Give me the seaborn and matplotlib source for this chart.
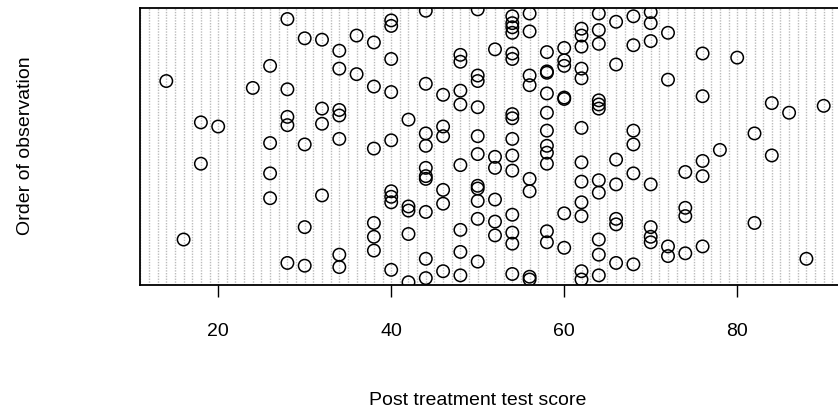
import matplotlib
matplotlib.use("Agg")
import matplotlib.pyplot as plt
import numpy as np
import pandas as pd
import seaborn as sns

# Post treatment test scores and their order of observation
scores = [28, 30, 32, 34, 36, 38, 40, 40, 40, 26, 34, 36, 14, 24, 28, 38, 40,
          32, 34, 34, 28, 28, 32, 18, 20, 26, 30, 34, 38, 40, 42, 18, 26, 26,
          32, 40, 40, 40, 42, 42, 30, 38, 38, 38, 16, 34, 34, 28, 30, 40, 42,
          44, 50, 54, 54, 54, 54, 56, 56, 64, 66, 68, 70, 70, 62, 62, 62, 64,
          64, 68, 70, 72, 52, 48, 48, 54, 54, 58, 60, 60, 60, 58, 58, 62, 62,
          66, 76, 80, 50, 50, 56, 56, 44, 46, 48, 48, 50, 58, 60, 60, 64, 64,
          64, 72, 76, 84, 86, 90, 54, 54, 58, 58, 62, 44, 44, 46, 46, 50, 54,
          58, 68, 68, 82, 78, 50, 54, 52, 52, 54, 58, 58, 84, 48, 44, 44, 44,
          46, 46, 50, 50, 50, 52, 56, 56, 62, 62, 62, 62, 64, 64, 66, 66, 68,
          70, 74, 76, 76, 60, 44, 50, 52, 54, 66, 66, 74, 74, 82, 42, 48, 52,
          54, 54, 58, 58, 60, 64, 64, 70, 70, 70, 72, 72, 74, 76, 88, 44, 48,
          50, 46, 44, 48, 54, 56, 56, 62, 62, 64, 66, 68]
order = [193, 179, 178, 170, 181, 176, 192, 188, 164, 159, 157, 153, 148, 143,
         142, 144, 140, 128, 127, 123, 122, 116, 117, 118, 115, 103, 102, 106,
         99, 105, 120, 88, 81, 63, 65, 68, 64, 60, 57, 54, 42, 45, 35, 25, 33,
         22, 13, 16, 14, 11, 2,
         199, 200, 195, 190, 187, 183, 197, 184, 197, 191, 195, 198, 190, 186,
         181, 173, 185, 175, 174, 177, 183, 171, 167, 162, 168, 164, 169, 172,
         163, 159, 155, 154, 157, 150, 160, 168, 165, 152, 148, 152, 145, 146,
         138, 141, 131, 129, 139, 136, 135, 134, 131, 128, 149, 137, 132, 125,
         130, 124, 121, 125, 112, 114, 110, 101, 115, 108, 108, 106, 101, 112,
         102, 110, 98, 95, 94, 93, 85, 83, 96, 88, 94, 87, 85, 79, 77, 69, 59,
         72, 70, 61, 62, 77, 68, 89, 75, 60, 50, 76, 67, 91, 73, 81, 73, 82,
         90, 79, 52, 53, 48, 46, 51, 48, 44, 56, 50, 45, 37, 40, 36, 38, 30,
         39, 31, 27, 33, 22, 42, 35, 31, 28, 21, 23, 28, 19, 19, 24, 17, 10, 5,
         7, 8, 6, 4, 10, 4, 7, 16, 15]

x_ticks = [20, 40, 60, 80]
x_label = "Post treatment test score"
y_label = "Order of observation"

df = pd.DataFrame({"score": scores, "order": order})

sns.set_style("white")
plt.rcParams["font.family"] = ["Liberation Sans", "DejaVu Sans"]
plt.rcParams["text.color"] = "black"

fig = plt.figure(figsize=(8.38, 4.15), dpi=100)
ax = fig.add_axes([140 / 838, (415 - 285) / 415, (850 - 140) / 838, (285 - 8) / 415])

# dense dotted grey guide lines
ax.vlines(np.arange(11, 94), 0, 201, colors="#bcbcbc", linestyles=(0, (1.0, 1.0)),
          linewidth=1.0, zorder=1)

sns.scatterplot(data=df, x="score", y="order", ax=ax, marker="o", s=80,
                facecolors="none", edgecolor="black", linewidth=1.1, zorder=3,
                legend=False)

ax.set_xlim(10.96, 93.04)
ax.set_ylim(0, 201)
ax.set_xticks(x_ticks)
ax.set_xticklabels([str(t) for t in x_ticks])
ax.set_yticks([])
ax.tick_params(axis="x", direction="out", length=8.5, width=1.0, pad=19,
               labelsize=14, colors="black", labelcolor="black", bottom=True)
for sp in ax.spines.values():
    sp.set_visible(True)
    sp.set_color("black")
    sp.set_linewidth(1.3)

ax.set_xlabel("")
ax.set_ylabel("")
fig.text(478 / 838, 1 - 400 / 415, x_label, ha="center", va="center",
         fontsize=14, color="black")
fig.text(25 / 838, 1 - 146 / 415, y_label, ha="center", va="center",
         rotation=90, fontsize=14, color="black")

fig.savefig("out.png", dpi=100)
